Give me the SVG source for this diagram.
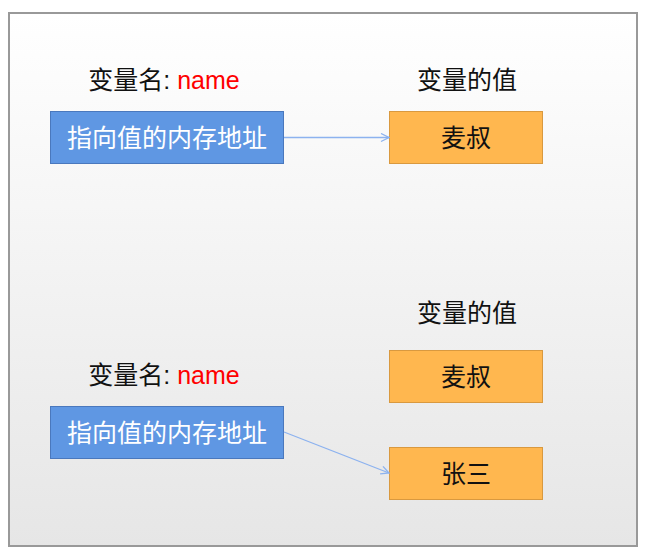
<svg xmlns="http://www.w3.org/2000/svg" width="648" height="556" viewBox="0 0 648 556">
<defs>
<linearGradient id="bg" x1="0" y1="0" x2="0" y2="1">
<stop offset="0" stop-color="#ffffff"/>
<stop offset="1" stop-color="#e6e6e6"/>
</linearGradient>
<marker id="arr" viewBox="0 0 10 10" refX="9" refY="5" markerWidth="10" markerHeight="10" markerUnits="userSpaceOnUse" orient="auto">
<path d="M1,1 L9,5 L1,9" fill="none" stroke="#8cb2ef" stroke-width="1.3"/>
</marker>
<style>
text{font-family:"Liberation Sans","Noto Sans CJK SC",sans-serif;font-size:25px;text-anchor:middle;dominant-baseline:central}
.blue rect{fill:#5f97e3;stroke:#4a78bd;stroke-width:1}
.blue text{fill:#ffffff}
.orange rect{fill:#ffb74f;stroke:#d9993f;stroke-width:1}
.orange text{fill:#111111}
.lbl{fill:#111111}
.red{fill:#ff0000}
.conn line{stroke:#8cb2ef;stroke-width:1.3;marker-end:url(#arr)}
</style>
</defs>
<rect x="9" y="13" width="628" height="533" fill="url(#bg)" stroke="#999999" stroke-width="2"/>
<g id="label-name-1"><text x="164" y="80"><tspan class="lbl">变量名: </tspan><tspan class="red">name</tspan></text></g>
<g id="label-value-1"><text class="lbl" x="467" y="80">变量的值</text></g>
<g id="addr-1" class="blue"><rect x="50.5" y="111.5" width="233" height="52"/><text x="167" y="137.5">指向值的内存地址</text></g>
<g id="val-1" class="orange"><rect x="389.5" y="111.5" width="153" height="52"/><text x="466" y="137.5">麦叔</text></g>
<g id="label-value-2"><text class="lbl" x="467" y="313">变量的值</text></g>
<g id="label-name-2"><text x="164" y="375"><tspan class="lbl">变量名: </tspan><tspan class="red">name</tspan></text></g>
<g id="val-2" class="orange"><rect x="389.5" y="350.5" width="153" height="52"/><text x="466" y="376.5">麦叔</text></g>
<g id="addr-2" class="blue"><rect x="50.5" y="406.5" width="233" height="52"/><text x="167" y="432.5">指向值的内存地址</text></g>
<g id="val-3" class="orange"><rect x="389.5" y="447.5" width="153" height="52"/><text x="466" y="473.5">张三</text></g>
<g id="connectors" class="conn">
<line x1="284" y1="137.5" x2="389" y2="137.5"/>
<line x1="284" y1="432" x2="389" y2="473"/>
</g>
</svg>
